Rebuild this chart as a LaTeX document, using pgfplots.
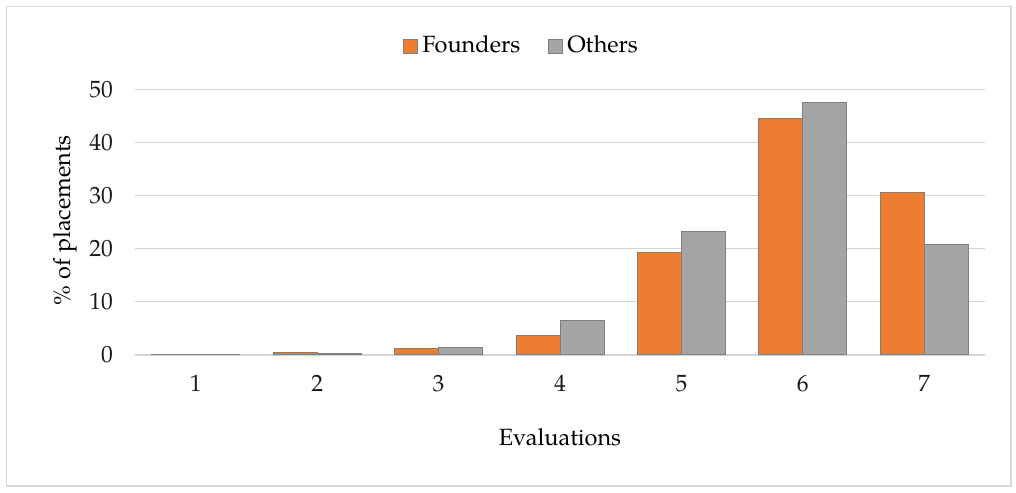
\documentclass[border=0pt]{standalone}
\usepackage{fontspec}
\setmainfont{TeX Gyre Pagella}
\usepackage{pgfplots}
\pgfplotsset{compat=1.18}
\definecolor{forange}{HTML}{ED7D31}
\definecolor{ogray}{HTML}{A5A5A5}
\definecolor{edgegray}{HTML}{7F7F7F}
\definecolor{gridgray}{HTML}{D4D4D4}
\definecolor{framegray}{HTML}{D9D9D9}
\begin{document}
\fontsize{23.5}{27}\selectfont
\begin{tikzpicture}[x=1pt,y=1pt]
\useasboundingbox (0,0) rectangle (1016,492);
\draw[framegray, line width=1.2pt] (6.5,6) rectangle (1011,485.5);
\begin{axis}[
  at={(135pt,137pt)}, anchor=south west,
  width=850pt, height=265pt, scale only axis,
  xmin=0.5, xmax=7.5, ymin=0, ymax=50,
  xtick={1,2,3,4,5,6,7},
  ytick={0,10,20,30,40,50},
  axis x line*=bottom,
  axis y line*=left,
  x axis line style={gridgray, line width=1.5pt, -},
  y axis line style={draw=none},
  ymajorgrids, grid style={gridgray, line width=1pt},
  major tick length=0pt,
  tick style={draw=none},
  /pgf/number format/assume math mode=true,
  ticklabel style={font=\fontsize{23.5}{27}\selectfont, text=black!90},
  xticklabel style={yshift=-12pt},
  yticklabel style={xshift=-14pt},
  ybar=0pt, bar width=44pt,
  xlabel={Evaluations},
  ylabel={\% of placements},
  label style={font=\fontsize{23.5}{27}\selectfont},
  xlabel style={at={(axis description cs:0.5,-0.309)}, anchor=center},
  ylabel style={at={(axis description cs:-0.0824,0.509)}, anchor=center},
  legend style={at={(axis description cs:0.456,1.166)}, anchor=center, draw=none, fill=none,
    font=\fontsize{23.5}{27}\selectfont, legend columns=2,
    nodes={inner xsep=4pt},
    /tikz/column 2/.style={column sep=24pt}},
  legend image code/.code={\draw[#1, line width=1pt] (0pt,-7pt) rectangle (14pt,7pt);},
  clip=false,
]
\addplot[fill=forange, draw=edgegray, line width=1pt] coordinates {(1,0.1) (2,0.4) (3,1.3) (4,3.6) (5,19.3) (6,44.6) (7,30.7)};
\addplot[fill=ogray, draw=edgegray, line width=1pt] coordinates {(1,0.1) (2,0.2) (3,1.5) (4,6.5) (5,23.3) (6,47.6) (7,20.9)};
\legend{Founders, Others}
\end{axis}
\end{tikzpicture}
\end{document}
